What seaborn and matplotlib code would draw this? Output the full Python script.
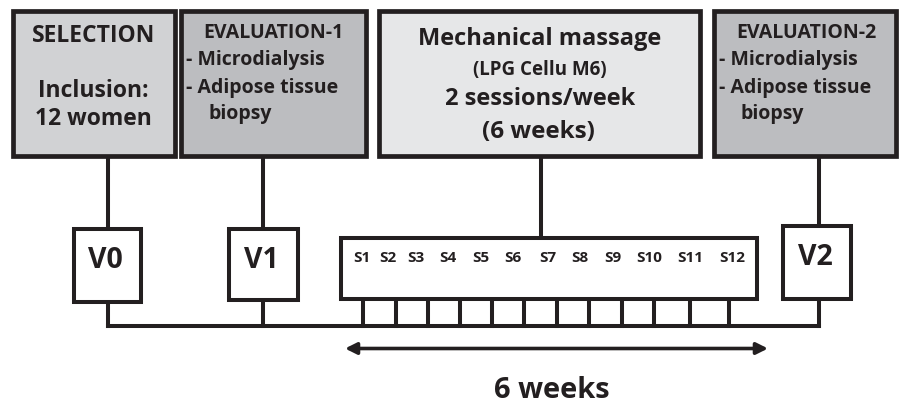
import matplotlib
matplotlib.use("Agg")
import matplotlib.pyplot as plt
from matplotlib.patches import Rectangle
import seaborn as sns

# text content
selection_lines = ["SELECTION", "Inclusion:", "12 women"]
eval1_lines = ["EVALUATION-1", "- Microdialysis", "- Adipose tissue", "biopsy"]
eval2_lines = ["EVALUATION-2", "- Microdialysis", "- Adipose tissue", "biopsy"]
massage_lines = ["Mechanical massage", "(LPG Cellu M6)", "2 sessions/week", "(6 weeks)"]
visits = ["V0", "V1", "V2"]
sessions = ["S1", "S2", "S3", "S4", "S5", "S6", "S7", "S8", "S9", "S10", "S11", "S12"]
duration_label = "6 weeks"

# layout (pixel space, y grows downward)
top_boxes = [(13, 10.5, 162, 145, "#d1d2d4"), (180.5, 10.5, 185.5, 145, "#bcbdc0"),
             (379, 10.5, 321, 145, "#e6e7e8"), (714, 10.5, 182, 145, "#bcbdc0")]
visit_x = [108, 263, 819]
visit_boxes = [(74, 229, 67, 73), (229, 229, 69, 71), (783, 226, 68, 73)]
session_x = [362, 388, 416, 448, 481, 513, 548, 580, 613, 649, 690, 732]
cell_x = [363, 396, 428, 460, 492, 524, 557, 589, 622, 654, 690, 729]
base_y = 326

sns.set_theme(style="white")
plt.rcParams['font.family'] = ['Open Sans', 'DejaVu Sans']
dark = "#231f20"

fig = plt.figure(figsize=(9.06, 4.05), dpi=100)
ax = fig.add_axes([0, 0, 1, 1])
ax.set_xlim(0, 906)
ax.set_ylim(405, 0)
ax.axis("off")

def line(xs, ys, lw=2.9):
    ax.plot(xs, ys, color=dark, lw=lw, solid_capstyle="projecting", zorder=1)

# connectors
line([visit_x[0], visit_x[0]], [155, 229])
line([visit_x[1], visit_x[1]], [155, 229])
line([540.5, 540.5], [155, 238])
line([visit_x[2], visit_x[2]], [155, 226])
for vx, (bx, by, bw, bh) in zip(visit_x, visit_boxes):
    line([vx, vx], [by + bh, base_y])
line([visit_x[0], visit_x[2]], [base_y, base_y])
for cx in cell_x:
    line([cx, cx], [298, base_y])

# top boxes
for x, y, w, h, fc in top_boxes:
    ax.add_patch(Rectangle((x, y), w, h, facecolor=fc, edgecolor=dark, lw=3.4, zorder=2))

kw = dict(fontweight="bold", color=dark, zorder=3)

# visit boxes
for (bx, by, bw, bh), lab in zip(visit_boxes, visits):
    ax.add_patch(Rectangle((bx, by), bw, bh, facecolor="white", edgecolor=dark, lw=2.9, zorder=2))
    ax.text(bx + bw / 2 - 2, by + 39, lab, ha="center", va="baseline", fontsize=20.5, **kw)

# session box
ax.add_patch(Rectangle((340.5, 237.5), 416.5, 61, facecolor="white", edgecolor=dark, lw=2.9, zorder=2))
for sx, lab in zip(session_x, sessions):
    ax.text(sx, 262, lab, ha="center", va="baseline", fontsize=11, **kw)

# text in top boxes
ax.text(93.5, 42, selection_lines[0], ha="center", va="baseline", fontsize=16.5, **kw)
ax.text(93.5, 97, selection_lines[1], ha="center", va="baseline", fontsize=16.5, **kw)
ax.text(93.5, 125, selection_lines[2], ha="center", va="baseline", fontsize=16.5, **kw)

for x0, lines_ in [(186, eval1_lines), (719, eval2_lines)]:
    ax.text(x0 + 87, 38, lines_[0], ha="center", va="baseline", fontsize=14, **kw)
    ax.text(x0, 65, lines_[1], ha="left", va="baseline", fontsize=14, **kw)
    ax.text(x0, 93, lines_[2], ha="left", va="baseline", fontsize=14, **kw)
    ax.text(x0 + 22, 119, lines_[3], ha="left", va="baseline", fontsize=14, **kw)

ax.text(539.5, 45, massage_lines[0], ha="center", va="baseline", fontsize=17, **kw)
ax.text(540, 75, massage_lines[1], ha="center", va="baseline", fontsize=13.5, **kw)
ax.text(540, 105, massage_lines[2], ha="center", va="baseline", fontsize=17, **kw)
ax.text(538, 138, massage_lines[3], ha="center", va="baseline", fontsize=17.5, **kw)

# duration arrow
ax.annotate("", xy=(345, 348.5), xytext=(768, 348.5),
            arrowprops=dict(arrowstyle="<|-|>", color=dark, lw=2.6,
                            mutation_scale=17, shrinkA=0, shrinkB=0))
ax.text(552, 398, duration_label, ha="center", va="baseline", fontsize=21, **kw)

fig.savefig("out.png", dpi=100, facecolor="white")
